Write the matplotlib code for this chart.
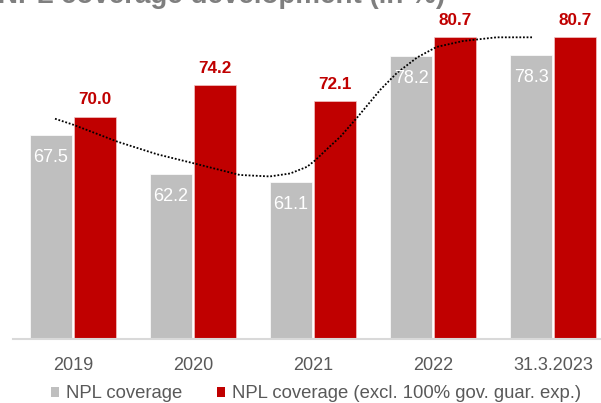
import matplotlib
matplotlib.use("Agg")
import matplotlib.pyplot as plt
from matplotlib.patches import Patch
import numpy as np

plt.rcParams['font.family'] = ['Liberation Sans', 'DejaVu Sans']

# ---- data ----
categories = ['2019', '2020', '2021', '2022', '31.3.2023']
npl_coverage = [67.5, 62.2, 61.1, 78.2, 78.3]
npl_coverage_excl = [70.0, 74.2, 72.1, 80.7, 80.7]
# dotted trend line (x in category units)
trend_x = [-0.15, 0.00, 0.37, 0.70, 1.00, 1.39, 1.64, 1.81, 1.95, 2.02, 2.11, 2.23,
           2.37, 2.56, 2.70, 2.87, 3.03, 3.25, 3.53, 3.83]
trend_y = [69.7, 68.9, 66.6, 64.9, 63.7, 62.1, 61.9, 62.3, 63.2, 64.1, 65.5, 67.3,
           69.9, 73.6, 75.9, 78.0, 79.4, 80.2, 80.7, 80.7]

title = 'NPL coverage development (in %)'
legend_labels = ['NPL coverage', 'NPL coverage (excl. 100% gov. guar. exp.)']

GRAY = '#BFBFBF'
RED = '#C00000'
TXT = '#595959'

W, H = 601, 403
fig = plt.figure(figsize=(W / 100, H / 100), dpi=100)
base_px = 338.5
left_px = 12.7
ax = fig.add_axes([left_px / W, (H - base_px) / H, (W - left_px) / W, base_px / H])

x = np.arange(len(categories))
bw = 0.35
off = 0.183
ax.bar(x - off, npl_coverage, bw, color=GRAY, edgecolor='white', linewidth=0.5)
ax.bar(x + off, npl_coverage_excl, bw, color=RED, edgecolor='#F2C4C4', linewidth=0.5)

ax.plot(trend_x, trend_y, color='black', linestyle=(0, (1, 1)), linewidth=1.3)

for xi, v in zip(x - off, npl_coverage):
    ax.annotate(f'{v:.1f}', (xi, v), xytext=(0, -16.3), textcoords='offset points',
                ha='center', va='center', color='white', fontsize=13)
for xi, v in zip(x + off, npl_coverage_excl):
    ax.annotate(f'{v:.1f}', (xi, v), xytext=(0, 12.2), textcoords='offset points',
                ha='center', va='center', color=RED, fontsize=12.3, fontweight='bold')

ax.set_ylim(40, 40 + base_px / 7.4)
ax.set_xlim((left_px - 73) / 120, (W - 73) / 120)
ax.set_xticks(x)
ax.set_xticklabels(categories, fontsize=13, color=TXT)
ax.tick_params(axis='x', length=0, pad=13)
ax.set_yticks([])
for s in ['top', 'right', 'left']:
    ax.spines[s].set_visible(False)
ax.spines['bottom'].set_color('#D9D9D9')
ax.spines['bottom'].set_linewidth(1.5)

# title is cut off at the top edge in the reference
fig.text(445 / W, 1 - 3 / H, title, ha='right', va='baseline', fontsize=20,
         fontweight='bold', color='#7F7F7F')

handles = [Patch(facecolor=GRAY), Patch(facecolor=RED)]
fig.legend(handles, legend_labels, loc='center left', bbox_to_anchor=(51 / W, 1 - 394 / H),
           ncol=2, frameon=False, fontsize=13.3, labelcolor=TXT, handlelength=0.45,
           handleheight=0.45, handletextpad=0.35, columnspacing=1.9, borderpad=0,
           borderaxespad=0)

fig.savefig('out.png', dpi=100)
